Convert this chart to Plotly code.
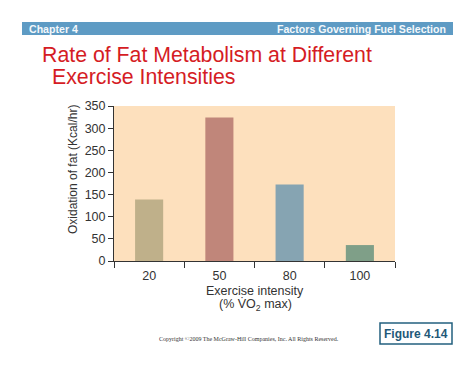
import plotly.graph_objects as go

# ---- data ----
categories = ["20", "50", "80", "100"]
fat_oxidation = [139, 324, 173, 36]
bar_colors = ["#bfb08a", "#c0867a", "#86a4b2", "#7f9f88"]
y_ticks = [0, 50, 100, 150, 200, 250, 300, 350]

# ---- layout geometry (pixels) ----
FW, FH = 474, 366
L, R, T, B = 114, 395, 106, 261
PW, PH = R - L, B - T


def px(x):
    return (x - L) / PW


def py(y):
    return (B - y) / PH


fig = go.Figure()
fig.add_trace(go.Bar(
    x=categories, y=fat_oxidation, width=0.4,
    marker=dict(color=bar_colors, line=dict(width=0)),
    hoverinfo="x+y",
))

FONT = "Liberation Sans, Arial, sans-serif"

shapes = [
    # header bar
    dict(type="rect", xref="paper", yref="paper",
         x0=px(22), x1=px(453), y0=py(35), y1=py(22),
         fillcolor="#5e9bc4", line=dict(width=0), layer="below"),
    # figure box
    dict(type="rect", xref="paper", yref="paper",
         x0=px(380), x1=px(452), y0=py(344), y1=py(323),
         fillcolor="white", line=dict(color="#23607f", width=1.5), layer="below"),
]


def ann(text, x, y, size, color, xanchor="center", family=FONT, **kw):
    return dict(text=text, x=px(x), y=py(y), xref="paper", yref="paper",
                xanchor=xanchor, yanchor="middle", showarrow=False,
                font=dict(family=family, size=size, color=color), **kw)


annotations = [
    ann("<b>Chapter 4</b>", 27, 28.5, 10.6, "#f4f8fb", xanchor="left"),
    ann("<b>Factors Governing Fuel Selection</b>", 448, 28.5, 10.6, "#f4f8fb", xanchor="right"),
    ann("Rate of Fat Metabolism at Different", 40, 55, 21.3, "#d51c24", xanchor="left"),
    ann("Exercise Intensities", 50, 77, 21.3, "#d51c24", xanchor="left"),
    ann("Oxidation of fat (Kcal/hr)", 73, 170, 12, "#333333", textangle=-90),
    ann("Exercise intensity", 255, 290.5, 12.5, "#333333"),
    ann("(% V\u0307O<sub>2</sub> max)", 255, 305, 12.5, "#333333"),
    ann("Copyright \u00a92009 The McGraw-Hill Companies, Inc. All Rights Reserved.",
        249, 339, 6, "#333333", family="Liberation Serif, Times New Roman, serif"),
    ann("<b>Figure 4.14</b>", 416, 333.5, 12, "#1f5878"),
]

fig.update_layout(
    width=FW, height=FH,
    margin=dict(l=L, r=FW - R, t=T, b=FH - B, pad=0),
    paper_bgcolor="white", plot_bgcolor="#fde0bd",
    showlegend=False, bargap=0.6,
    font=dict(family=FONT, size=12, color="#333333"),
    shapes=shapes, annotations=annotations,
    xaxis=dict(type="category", range=[-0.5, 3.5], tickson="boundaries",
               ticks="outside", ticklen=6, tickcolor="#333333", tickwidth=1,
               ticklabelstandoff=3,
               showline=True, linecolor="#333333", linewidth=1,
               showgrid=False, zeroline=False, fixedrange=True,
               tickfont=dict(size=12.5, color="#333333")),
    yaxis=dict(range=[0, 350], tickvals=y_ticks,
               ticks="outside", ticklen=5, tickcolor="#333333", tickwidth=1,
               showline=True, linecolor="#333333", linewidth=1,
               showgrid=False, zeroline=False, fixedrange=True,
               tickfont=dict(size=12.5, color="#333333")),
)

fig.write_html("out.html", config={"displayModeBar": False},
               post_script="document.body.style.margin='0';document.body.style.overflow='hidden';")
